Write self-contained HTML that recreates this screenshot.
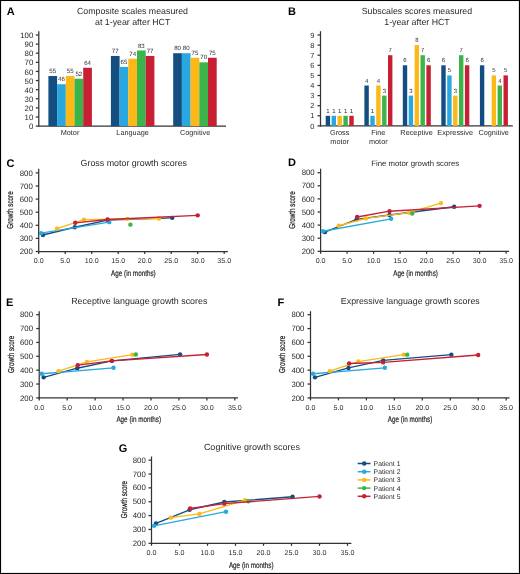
<!DOCTYPE html>
<html><head><meta charset="utf-8"><style>
html,body{margin:0;padding:0;background:#fff;}
svg{display:block;will-change:transform;}
text{font-family:"Liberation Sans",sans-serif;text-rendering:geometricPrecision;}
</style></head><body>
<svg width="520" height="574" viewBox="0 0 520 574" fill="#2a2a2a">
<rect x="0" y="0" width="520" height="574" fill="#fff"/>
<text x="6.80" y="14.60" font-size="11" font-weight="bold" fill="#000">A</text>
<text x="132.50" y="14.00" font-size="8.8" text-anchor="middle">Composite scales measured</text>
<text x="132.70" y="24.80" font-size="8.8" text-anchor="middle">at 1-year after HCT</text>
<line x1="38.80" y1="31.30" x2="38.80" y2="126.60" stroke="#333333" stroke-width="1.25"/>
<line x1="38.30" y1="126.10" x2="226.00" y2="126.10" stroke="#333333" stroke-width="1.25"/>
<line x1="35.80" y1="126.10" x2="38.80" y2="126.10" stroke="#333333" stroke-width="1.25"/>
<text x="33.30" y="129.20" font-size="7.8" text-anchor="end">0</text>
<line x1="35.80" y1="116.99" x2="38.80" y2="116.99" stroke="#333333" stroke-width="1.25"/>
<text x="33.30" y="120.09" font-size="7.8" text-anchor="end">10</text>
<line x1="35.80" y1="107.88" x2="38.80" y2="107.88" stroke="#333333" stroke-width="1.25"/>
<text x="33.30" y="110.98" font-size="7.8" text-anchor="end">20</text>
<line x1="35.80" y1="98.77" x2="38.80" y2="98.77" stroke="#333333" stroke-width="1.25"/>
<text x="33.30" y="101.87" font-size="7.8" text-anchor="end">30</text>
<line x1="35.80" y1="89.66" x2="38.80" y2="89.66" stroke="#333333" stroke-width="1.25"/>
<text x="33.30" y="92.76" font-size="7.8" text-anchor="end">40</text>
<line x1="35.80" y1="80.55" x2="38.80" y2="80.55" stroke="#333333" stroke-width="1.25"/>
<text x="33.30" y="83.65" font-size="7.8" text-anchor="end">50</text>
<line x1="35.80" y1="71.44" x2="38.80" y2="71.44" stroke="#333333" stroke-width="1.25"/>
<text x="33.30" y="74.54" font-size="7.8" text-anchor="end">60</text>
<line x1="35.80" y1="62.33" x2="38.80" y2="62.33" stroke="#333333" stroke-width="1.25"/>
<text x="33.30" y="65.43" font-size="7.8" text-anchor="end">70</text>
<line x1="35.80" y1="53.22" x2="38.80" y2="53.22" stroke="#333333" stroke-width="1.25"/>
<text x="33.30" y="56.32" font-size="7.8" text-anchor="end">80</text>
<line x1="35.80" y1="44.11" x2="38.80" y2="44.11" stroke="#333333" stroke-width="1.25"/>
<text x="33.30" y="47.21" font-size="7.8" text-anchor="end">90</text>
<line x1="35.80" y1="35.00" x2="38.80" y2="35.00" stroke="#333333" stroke-width="1.25"/>
<text x="33.30" y="38.10" font-size="7.8" text-anchor="end">100</text>
<rect x="48.40" y="75.99" width="8.70" height="50.11" fill="#144d80"/>
<text x="52.75" y="73.09" font-size="6.1" text-anchor="middle">55</text>
<rect x="57.10" y="84.19" width="8.70" height="41.91" fill="#29a8e0"/>
<text x="61.45" y="81.29" font-size="6.1" text-anchor="middle">46</text>
<rect x="65.80" y="75.99" width="8.70" height="50.11" fill="#fbb817"/>
<text x="70.15" y="73.09" font-size="6.1" text-anchor="middle">55</text>
<rect x="74.50" y="78.73" width="8.70" height="47.37" fill="#3bb44a"/>
<text x="78.85" y="75.83" font-size="6.1" text-anchor="middle">52</text>
<rect x="83.20" y="67.80" width="8.70" height="58.30" fill="#c71f33"/>
<text x="87.55" y="64.90" font-size="6.1" text-anchor="middle">64</text>
<rect x="110.90" y="55.95" width="8.70" height="70.15" fill="#144d80"/>
<text x="115.25" y="53.05" font-size="6.1" text-anchor="middle">77</text>
<rect x="119.60" y="66.88" width="8.70" height="59.22" fill="#29a8e0"/>
<text x="123.95" y="63.98" font-size="6.1" text-anchor="middle">65</text>
<rect x="128.30" y="58.69" width="8.70" height="67.41" fill="#fbb817"/>
<text x="132.65" y="55.79" font-size="6.1" text-anchor="middle">74</text>
<rect x="137.00" y="50.49" width="8.70" height="75.61" fill="#3bb44a"/>
<text x="141.35" y="47.59" font-size="6.1" text-anchor="middle">83</text>
<rect x="145.70" y="55.95" width="8.70" height="70.15" fill="#c71f33"/>
<text x="150.05" y="53.05" font-size="6.1" text-anchor="middle">77</text>
<rect x="173.20" y="53.22" width="8.70" height="72.88" fill="#144d80"/>
<text x="177.55" y="50.32" font-size="6.1" text-anchor="middle">80</text>
<rect x="181.90" y="53.22" width="8.70" height="72.88" fill="#29a8e0"/>
<text x="186.25" y="50.32" font-size="6.1" text-anchor="middle">80</text>
<rect x="190.60" y="57.77" width="8.70" height="68.33" fill="#fbb817"/>
<text x="194.95" y="54.87" font-size="6.1" text-anchor="middle">75</text>
<rect x="199.30" y="62.33" width="8.70" height="63.77" fill="#3bb44a"/>
<text x="203.65" y="59.43" font-size="6.1" text-anchor="middle">70</text>
<rect x="208.00" y="57.77" width="8.70" height="68.33" fill="#c71f33"/>
<text x="212.35" y="54.87" font-size="6.1" text-anchor="middle">75</text>
<text x="70.00" y="135.00" font-size="7.3" text-anchor="middle">Motor</text>
<text x="132.60" y="135.00" font-size="7.3" text-anchor="middle">Language</text>
<text x="195.10" y="135.00" font-size="7.3" text-anchor="middle">Cognitive</text>
<text x="288.10" y="14.70" font-size="11" font-weight="bold" fill="#000">B</text>
<text x="416.90" y="14.00" font-size="8.8" text-anchor="middle">Subscales scores measured</text>
<text x="417.00" y="24.80" font-size="8.8" text-anchor="middle">1-year after HCT</text>
<line x1="320.50" y1="31.20" x2="320.50" y2="126.40" stroke="#333333" stroke-width="1.25"/>
<line x1="320.00" y1="125.90" x2="512.80" y2="125.90" stroke="#333333" stroke-width="1.25"/>
<line x1="317.50" y1="125.90" x2="320.50" y2="125.90" stroke="#333333" stroke-width="1.25"/>
<text x="314.40" y="128.50" font-size="7.4" text-anchor="end">0</text>
<line x1="317.50" y1="115.80" x2="320.50" y2="115.80" stroke="#333333" stroke-width="1.25"/>
<text x="314.40" y="118.40" font-size="7.4" text-anchor="end">1</text>
<line x1="317.50" y1="105.70" x2="320.50" y2="105.70" stroke="#333333" stroke-width="1.25"/>
<text x="314.40" y="108.30" font-size="7.4" text-anchor="end">2</text>
<line x1="317.50" y1="95.60" x2="320.50" y2="95.60" stroke="#333333" stroke-width="1.25"/>
<text x="314.40" y="98.20" font-size="7.4" text-anchor="end">3</text>
<line x1="317.50" y1="85.50" x2="320.50" y2="85.50" stroke="#333333" stroke-width="1.25"/>
<text x="314.40" y="88.10" font-size="7.4" text-anchor="end">4</text>
<line x1="317.50" y1="75.40" x2="320.50" y2="75.40" stroke="#333333" stroke-width="1.25"/>
<text x="314.40" y="78.00" font-size="7.4" text-anchor="end">5</text>
<line x1="317.50" y1="65.30" x2="320.50" y2="65.30" stroke="#333333" stroke-width="1.25"/>
<text x="314.40" y="67.90" font-size="7.4" text-anchor="end">6</text>
<line x1="317.50" y1="55.20" x2="320.50" y2="55.20" stroke="#333333" stroke-width="1.25"/>
<text x="314.40" y="57.80" font-size="7.4" text-anchor="end">7</text>
<line x1="317.50" y1="45.10" x2="320.50" y2="45.10" stroke="#333333" stroke-width="1.25"/>
<text x="314.40" y="47.70" font-size="7.4" text-anchor="end">8</text>
<line x1="317.50" y1="35.00" x2="320.50" y2="35.00" stroke="#333333" stroke-width="1.25"/>
<text x="314.40" y="37.60" font-size="7.4" text-anchor="end">9</text>
<rect x="325.70" y="115.80" width="4.40" height="10.10" fill="#144d80"/>
<text x="327.90" y="112.80" font-size="6.0" text-anchor="middle">1</text>
<rect x="331.60" y="115.80" width="4.40" height="10.10" fill="#29a8e0"/>
<text x="333.80" y="112.80" font-size="6.0" text-anchor="middle">1</text>
<rect x="337.50" y="115.80" width="4.40" height="10.10" fill="#fbb817"/>
<text x="339.70" y="112.80" font-size="6.0" text-anchor="middle">1</text>
<rect x="343.40" y="115.80" width="4.40" height="10.10" fill="#3bb44a"/>
<text x="345.60" y="112.80" font-size="6.0" text-anchor="middle">1</text>
<rect x="349.30" y="115.80" width="4.40" height="10.10" fill="#c71f33"/>
<text x="351.50" y="112.80" font-size="6.0" text-anchor="middle">1</text>
<rect x="364.40" y="85.50" width="4.40" height="40.40" fill="#144d80"/>
<text x="366.60" y="82.50" font-size="6.0" text-anchor="middle">4</text>
<rect x="370.30" y="115.80" width="4.40" height="10.10" fill="#29a8e0"/>
<text x="372.50" y="112.80" font-size="6.0" text-anchor="middle">1</text>
<rect x="376.20" y="85.50" width="4.40" height="40.40" fill="#fbb817"/>
<text x="378.40" y="82.50" font-size="6.0" text-anchor="middle">4</text>
<rect x="382.10" y="95.60" width="4.40" height="30.30" fill="#3bb44a"/>
<text x="384.30" y="92.60" font-size="6.0" text-anchor="middle">3</text>
<rect x="388.00" y="55.20" width="4.40" height="70.70" fill="#c71f33"/>
<text x="390.20" y="52.20" font-size="6.0" text-anchor="middle">7</text>
<rect x="402.80" y="65.30" width="4.40" height="60.60" fill="#144d80"/>
<text x="405.00" y="62.30" font-size="6.0" text-anchor="middle">6</text>
<rect x="408.70" y="95.60" width="4.40" height="30.30" fill="#29a8e0"/>
<text x="410.90" y="92.60" font-size="6.0" text-anchor="middle">3</text>
<rect x="414.60" y="45.10" width="4.40" height="80.80" fill="#fbb817"/>
<text x="416.80" y="42.10" font-size="6.0" text-anchor="middle">8</text>
<rect x="420.50" y="55.20" width="4.40" height="70.70" fill="#3bb44a"/>
<text x="422.70" y="52.20" font-size="6.0" text-anchor="middle">7</text>
<rect x="426.40" y="65.30" width="4.40" height="60.60" fill="#c71f33"/>
<text x="428.60" y="62.30" font-size="6.0" text-anchor="middle">6</text>
<rect x="441.30" y="65.30" width="4.40" height="60.60" fill="#144d80"/>
<text x="443.50" y="62.30" font-size="6.0" text-anchor="middle">6</text>
<rect x="447.20" y="75.40" width="4.40" height="50.50" fill="#29a8e0"/>
<text x="449.40" y="72.40" font-size="6.0" text-anchor="middle">5</text>
<rect x="453.10" y="95.60" width="4.40" height="30.30" fill="#fbb817"/>
<text x="455.30" y="92.60" font-size="6.0" text-anchor="middle">3</text>
<rect x="459.00" y="55.20" width="4.40" height="70.70" fill="#3bb44a"/>
<text x="461.20" y="52.20" font-size="6.0" text-anchor="middle">7</text>
<rect x="464.90" y="65.30" width="4.40" height="60.60" fill="#c71f33"/>
<text x="467.10" y="62.30" font-size="6.0" text-anchor="middle">6</text>
<rect x="479.90" y="65.30" width="4.40" height="60.60" fill="#144d80"/>
<text x="482.10" y="62.30" font-size="6.0" text-anchor="middle">6</text>
<rect x="491.70" y="75.40" width="4.40" height="50.50" fill="#fbb817"/>
<text x="493.90" y="72.40" font-size="6.0" text-anchor="middle">5</text>
<rect x="497.60" y="85.50" width="4.40" height="40.40" fill="#3bb44a"/>
<text x="499.80" y="82.50" font-size="6.0" text-anchor="middle">4</text>
<rect x="503.50" y="75.40" width="4.40" height="50.50" fill="#c71f33"/>
<text x="505.70" y="72.40" font-size="6.0" text-anchor="middle">5</text>
<text x="339.70" y="134.80" font-size="7.3" text-anchor="middle">Gross</text>
<text x="339.70" y="143.90" font-size="7.3" text-anchor="middle">motor</text>
<text x="378.30" y="134.80" font-size="7.3" text-anchor="middle">Fine</text>
<text x="378.30" y="143.90" font-size="7.3" text-anchor="middle">motor</text>
<text x="416.60" y="134.80" font-size="7.3" text-anchor="middle">Receptive</text>
<text x="455.20" y="134.80" font-size="7.3" text-anchor="middle">Expressive</text>
<text x="493.70" y="134.80" font-size="7.3" text-anchor="middle">Cognitive</text>
<text x="6.50" y="166.80" font-size="11" font-weight="bold" fill="#000">C</text>
<text x="133.80" y="165.90" font-size="8.9" text-anchor="middle">Gross motor growth scores</text>
<line x1="38.70" y1="168.70" x2="38.70" y2="252.00" stroke="#333333" stroke-width="1.25"/>
<line x1="38.20" y1="251.50" x2="227.90" y2="251.50" stroke="#333333" stroke-width="1.25"/>
<line x1="35.70" y1="251.50" x2="38.70" y2="251.50" stroke="#333333" stroke-width="1.25"/>
<text x="32.80" y="254.10" font-size="7.8" text-anchor="end">200</text>
<line x1="35.70" y1="238.40" x2="38.70" y2="238.40" stroke="#333333" stroke-width="1.25"/>
<text x="32.80" y="241.00" font-size="7.8" text-anchor="end">300</text>
<line x1="35.70" y1="225.30" x2="38.70" y2="225.30" stroke="#333333" stroke-width="1.25"/>
<text x="32.80" y="227.90" font-size="7.8" text-anchor="end">400</text>
<line x1="35.70" y1="212.20" x2="38.70" y2="212.20" stroke="#333333" stroke-width="1.25"/>
<text x="32.80" y="214.80" font-size="7.8" text-anchor="end">500</text>
<line x1="35.70" y1="199.10" x2="38.70" y2="199.10" stroke="#333333" stroke-width="1.25"/>
<text x="32.80" y="201.70" font-size="7.8" text-anchor="end">600</text>
<line x1="35.70" y1="186.00" x2="38.70" y2="186.00" stroke="#333333" stroke-width="1.25"/>
<text x="32.80" y="188.60" font-size="7.8" text-anchor="end">700</text>
<line x1="35.70" y1="172.90" x2="38.70" y2="172.90" stroke="#333333" stroke-width="1.25"/>
<text x="32.80" y="175.50" font-size="7.8" text-anchor="end">800</text>
<line x1="38.70" y1="251.50" x2="38.70" y2="254.00" stroke="#333333" stroke-width="1.25"/>
<text x="38.70" y="262.50" font-size="7.1" text-anchor="middle">0.0</text>
<line x1="65.20" y1="251.50" x2="65.20" y2="254.00" stroke="#333333" stroke-width="1.25"/>
<text x="65.20" y="262.50" font-size="7.1" text-anchor="middle">5.0</text>
<line x1="91.70" y1="251.50" x2="91.70" y2="254.00" stroke="#333333" stroke-width="1.25"/>
<text x="91.70" y="262.50" font-size="7.1" text-anchor="middle">10.0</text>
<line x1="118.20" y1="251.50" x2="118.20" y2="254.00" stroke="#333333" stroke-width="1.25"/>
<text x="118.20" y="262.50" font-size="7.1" text-anchor="middle">15.0</text>
<line x1="144.70" y1="251.50" x2="144.70" y2="254.00" stroke="#333333" stroke-width="1.25"/>
<text x="144.70" y="262.50" font-size="7.1" text-anchor="middle">20.0</text>
<line x1="171.20" y1="251.50" x2="171.20" y2="254.00" stroke="#333333" stroke-width="1.25"/>
<text x="171.20" y="262.50" font-size="7.1" text-anchor="middle">25.0</text>
<line x1="197.70" y1="251.50" x2="197.70" y2="254.00" stroke="#333333" stroke-width="1.25"/>
<text x="197.70" y="262.50" font-size="7.1" text-anchor="middle">30.0</text>
<line x1="224.20" y1="251.50" x2="224.20" y2="254.00" stroke="#333333" stroke-width="1.25"/>
<text x="224.20" y="262.50" font-size="7.1" text-anchor="middle">35.0</text>
<text transform="translate(13.20,210.00) rotate(-90)" text-anchor="middle" font-size="8.6" textLength="37.3" lengthAdjust="spacingAndGlyphs" fill="#231f20" stroke="#231f20" stroke-width="0.25">Growth score</text>
<text x="133.40" y="275.60" font-size="8.2" text-anchor="middle" textLength="44.6" lengthAdjust="spacingAndGlyphs" stroke="#231f20" stroke-width="0.2">Age (in months)</text>
<polyline points="42.94,234.99 74.74,227.26 107.60,220.06 172.26,217.83" fill="none" stroke="#144d80" stroke-width="1.35" stroke-linejoin="round"/>
<circle cx="42.94" cy="234.99" r="2.2" fill="#144d80"/>
<circle cx="74.74" cy="227.26" r="2.2" fill="#144d80"/>
<circle cx="107.60" cy="220.06" r="2.2" fill="#144d80"/>
<circle cx="172.26" cy="217.83" r="2.2" fill="#144d80"/>
<polyline points="41.09,233.16 109.19,222.16" fill="none" stroke="#29a8e0" stroke-width="1.35" stroke-linejoin="round"/>
<circle cx="41.09" cy="233.16" r="2.2" fill="#29a8e0"/>
<circle cx="109.19" cy="222.16" r="2.2" fill="#29a8e0"/>
<polyline points="56.98,228.71 84.02,219.67 127.21,218.88 159.01,218.49" fill="none" stroke="#fbb817" stroke-width="1.35" stroke-linejoin="round"/>
<circle cx="56.98" cy="228.71" r="2.2" fill="#fbb817"/>
<circle cx="84.02" cy="219.67" r="2.2" fill="#fbb817"/>
<circle cx="127.21" cy="218.88" r="2.2" fill="#fbb817"/>
<circle cx="159.01" cy="218.49" r="2.2" fill="#fbb817"/>
<circle cx="130.39" cy="224.65" r="2.2" fill="#3bb44a"/>
<polyline points="75.27,222.81 107.60,219.54 197.70,215.34" fill="none" stroke="#c71f33" stroke-width="1.35" stroke-linejoin="round"/>
<circle cx="75.27" cy="222.81" r="2.2" fill="#c71f33"/>
<circle cx="107.60" cy="219.54" r="2.2" fill="#c71f33"/>
<circle cx="197.70" cy="215.34" r="2.2" fill="#c71f33"/>
<text x="288.00" y="166.30" font-size="11" font-weight="bold" fill="#000">D</text>
<text x="415.20" y="165.70" font-size="7.8" text-anchor="middle">Fine motor growth scores</text>
<line x1="320.60" y1="168.70" x2="320.60" y2="251.80" stroke="#333333" stroke-width="1.25"/>
<line x1="320.10" y1="251.30" x2="509.10" y2="251.30" stroke="#333333" stroke-width="1.25"/>
<line x1="317.60" y1="251.30" x2="320.60" y2="251.30" stroke="#333333" stroke-width="1.25"/>
<text x="314.70" y="253.90" font-size="7.8" text-anchor="end">200</text>
<line x1="317.60" y1="238.20" x2="320.60" y2="238.20" stroke="#333333" stroke-width="1.25"/>
<text x="314.70" y="240.80" font-size="7.8" text-anchor="end">300</text>
<line x1="317.60" y1="225.10" x2="320.60" y2="225.10" stroke="#333333" stroke-width="1.25"/>
<text x="314.70" y="227.70" font-size="7.8" text-anchor="end">400</text>
<line x1="317.60" y1="212.00" x2="320.60" y2="212.00" stroke="#333333" stroke-width="1.25"/>
<text x="314.70" y="214.60" font-size="7.8" text-anchor="end">500</text>
<line x1="317.60" y1="198.90" x2="320.60" y2="198.90" stroke="#333333" stroke-width="1.25"/>
<text x="314.70" y="201.50" font-size="7.8" text-anchor="end">600</text>
<line x1="317.60" y1="185.80" x2="320.60" y2="185.80" stroke="#333333" stroke-width="1.25"/>
<text x="314.70" y="188.40" font-size="7.8" text-anchor="end">700</text>
<line x1="317.60" y1="172.70" x2="320.60" y2="172.70" stroke="#333333" stroke-width="1.25"/>
<text x="314.70" y="175.30" font-size="7.8" text-anchor="end">800</text>
<line x1="320.60" y1="251.30" x2="320.60" y2="253.80" stroke="#333333" stroke-width="1.25"/>
<text x="320.60" y="262.50" font-size="7.1" text-anchor="middle">0.0</text>
<line x1="347.10" y1="251.30" x2="347.10" y2="253.80" stroke="#333333" stroke-width="1.25"/>
<text x="347.10" y="262.50" font-size="7.1" text-anchor="middle">5.0</text>
<line x1="373.60" y1="251.30" x2="373.60" y2="253.80" stroke="#333333" stroke-width="1.25"/>
<text x="373.60" y="262.50" font-size="7.1" text-anchor="middle">10.0</text>
<line x1="400.10" y1="251.30" x2="400.10" y2="253.80" stroke="#333333" stroke-width="1.25"/>
<text x="400.10" y="262.50" font-size="7.1" text-anchor="middle">15.0</text>
<line x1="426.60" y1="251.30" x2="426.60" y2="253.80" stroke="#333333" stroke-width="1.25"/>
<text x="426.60" y="262.50" font-size="7.1" text-anchor="middle">20.0</text>
<line x1="453.10" y1="251.30" x2="453.10" y2="253.80" stroke="#333333" stroke-width="1.25"/>
<text x="453.10" y="262.50" font-size="7.1" text-anchor="middle">25.0</text>
<line x1="479.60" y1="251.30" x2="479.60" y2="253.80" stroke="#333333" stroke-width="1.25"/>
<text x="479.60" y="262.50" font-size="7.1" text-anchor="middle">30.0</text>
<line x1="506.10" y1="251.30" x2="506.10" y2="253.80" stroke="#333333" stroke-width="1.25"/>
<text x="506.10" y="262.50" font-size="7.1" text-anchor="middle">35.0</text>
<text transform="translate(295.00,210.00) rotate(-90)" text-anchor="middle" font-size="8.6" textLength="37.3" lengthAdjust="spacingAndGlyphs" fill="#231f20" stroke="#231f20" stroke-width="0.25">Growth score</text>
<text x="415.60" y="275.80" font-size="8.2" text-anchor="middle" textLength="44.6" lengthAdjust="spacingAndGlyphs" stroke="#231f20" stroke-width="0.2">Age (in months)</text>
<polyline points="324.84,232.17 356.64,219.34 389.50,215.01 454.16,206.76" fill="none" stroke="#144d80" stroke-width="1.35" stroke-linejoin="round"/>
<circle cx="324.84" cy="232.17" r="2.2" fill="#144d80"/>
<circle cx="356.64" cy="219.34" r="2.2" fill="#144d80"/>
<circle cx="389.50" cy="215.01" r="2.2" fill="#144d80"/>
<circle cx="454.16" cy="206.76" r="2.2" fill="#144d80"/>
<polyline points="322.99,231.26 391.09,218.81" fill="none" stroke="#29a8e0" stroke-width="1.35" stroke-linejoin="round"/>
<circle cx="322.99" cy="231.26" r="2.2" fill="#29a8e0"/>
<circle cx="391.09" cy="218.81" r="2.2" fill="#29a8e0"/>
<polyline points="338.89,225.76 365.92,218.42 409.11,212.66 440.91,203.09" fill="none" stroke="#fbb817" stroke-width="1.35" stroke-linejoin="round"/>
<circle cx="338.89" cy="225.76" r="2.2" fill="#fbb817"/>
<circle cx="365.92" cy="218.42" r="2.2" fill="#fbb817"/>
<circle cx="409.11" cy="212.66" r="2.2" fill="#fbb817"/>
<circle cx="440.91" cy="203.09" r="2.2" fill="#fbb817"/>
<circle cx="412.29" cy="213.44" r="2.2" fill="#3bb44a"/>
<polyline points="357.17,216.98 389.50,211.21 479.60,205.84" fill="none" stroke="#c71f33" stroke-width="1.35" stroke-linejoin="round"/>
<circle cx="357.17" cy="216.98" r="2.2" fill="#c71f33"/>
<circle cx="389.50" cy="211.21" r="2.2" fill="#c71f33"/>
<circle cx="479.60" cy="205.84" r="2.2" fill="#c71f33"/>
<text x="5.90" y="305.70" font-size="11" font-weight="bold" fill="#000">E</text>
<text x="139.30" y="304.20" font-size="8.9" text-anchor="middle">Receptive language growth scores</text>
<line x1="39.20" y1="311.20" x2="39.20" y2="398.40" stroke="#333333" stroke-width="1.25"/>
<line x1="38.70" y1="397.90" x2="238.00" y2="397.90" stroke="#333333" stroke-width="1.25"/>
<line x1="36.20" y1="397.90" x2="39.20" y2="397.90" stroke="#333333" stroke-width="1.25"/>
<text x="33.00" y="400.50" font-size="7.8" text-anchor="end">200</text>
<line x1="36.20" y1="384.03" x2="39.20" y2="384.03" stroke="#333333" stroke-width="1.25"/>
<text x="33.00" y="386.63" font-size="7.8" text-anchor="end">300</text>
<line x1="36.20" y1="370.16" x2="39.20" y2="370.16" stroke="#333333" stroke-width="1.25"/>
<text x="33.00" y="372.76" font-size="7.8" text-anchor="end">400</text>
<line x1="36.20" y1="356.29" x2="39.20" y2="356.29" stroke="#333333" stroke-width="1.25"/>
<text x="33.00" y="358.89" font-size="7.8" text-anchor="end">500</text>
<line x1="36.20" y1="342.42" x2="39.20" y2="342.42" stroke="#333333" stroke-width="1.25"/>
<text x="33.00" y="345.02" font-size="7.8" text-anchor="end">600</text>
<line x1="36.20" y1="328.55" x2="39.20" y2="328.55" stroke="#333333" stroke-width="1.25"/>
<text x="33.00" y="331.15" font-size="7.8" text-anchor="end">700</text>
<line x1="36.20" y1="314.68" x2="39.20" y2="314.68" stroke="#333333" stroke-width="1.25"/>
<text x="33.00" y="317.28" font-size="7.8" text-anchor="end">800</text>
<line x1="39.20" y1="397.90" x2="39.20" y2="400.40" stroke="#333333" stroke-width="1.25"/>
<text x="39.20" y="409.50" font-size="7.1" text-anchor="middle">0.0</text>
<line x1="67.15" y1="397.90" x2="67.15" y2="400.40" stroke="#333333" stroke-width="1.25"/>
<text x="67.15" y="409.50" font-size="7.1" text-anchor="middle">5.0</text>
<line x1="95.10" y1="397.90" x2="95.10" y2="400.40" stroke="#333333" stroke-width="1.25"/>
<text x="95.10" y="409.50" font-size="7.1" text-anchor="middle">10.0</text>
<line x1="123.05" y1="397.90" x2="123.05" y2="400.40" stroke="#333333" stroke-width="1.25"/>
<text x="123.05" y="409.50" font-size="7.1" text-anchor="middle">15.0</text>
<line x1="151.00" y1="397.90" x2="151.00" y2="400.40" stroke="#333333" stroke-width="1.25"/>
<text x="151.00" y="409.50" font-size="7.1" text-anchor="middle">20.0</text>
<line x1="178.95" y1="397.90" x2="178.95" y2="400.40" stroke="#333333" stroke-width="1.25"/>
<text x="178.95" y="409.50" font-size="7.1" text-anchor="middle">25.0</text>
<line x1="206.90" y1="397.90" x2="206.90" y2="400.40" stroke="#333333" stroke-width="1.25"/>
<text x="206.90" y="409.50" font-size="7.1" text-anchor="middle">30.0</text>
<line x1="234.85" y1="397.90" x2="234.85" y2="400.40" stroke="#333333" stroke-width="1.25"/>
<text x="234.85" y="409.50" font-size="7.1" text-anchor="middle">35.0</text>
<text transform="translate(13.50,354.40) rotate(-90)" text-anchor="middle" font-size="8.6" textLength="37.3" lengthAdjust="spacingAndGlyphs" fill="#231f20" stroke="#231f20" stroke-width="0.25">Growth score</text>
<text x="138.70" y="422.00" font-size="8.2" text-anchor="middle" textLength="44.6" lengthAdjust="spacingAndGlyphs" stroke="#231f20" stroke-width="0.2">Age (in months)</text>
<polyline points="43.67,377.37 77.21,368.22 111.87,360.87 180.07,354.35" fill="none" stroke="#144d80" stroke-width="1.35" stroke-linejoin="round"/>
<circle cx="43.67" cy="377.37" r="2.2" fill="#144d80"/>
<circle cx="77.21" cy="368.22" r="2.2" fill="#144d80"/>
<circle cx="111.87" cy="360.87" r="2.2" fill="#144d80"/>
<circle cx="180.07" cy="354.35" r="2.2" fill="#144d80"/>
<polyline points="41.72,373.77 113.55,367.80" fill="none" stroke="#29a8e0" stroke-width="1.35" stroke-linejoin="round"/>
<circle cx="41.72" cy="373.77" r="2.2" fill="#29a8e0"/>
<circle cx="113.55" cy="367.80" r="2.2" fill="#29a8e0"/>
<polyline points="58.49,371.13 86.99,361.84 132.55,354.63" fill="none" stroke="#fbb817" stroke-width="1.35" stroke-linejoin="round"/>
<circle cx="58.49" cy="371.13" r="2.2" fill="#fbb817"/>
<circle cx="86.99" cy="361.84" r="2.2" fill="#fbb817"/>
<circle cx="132.55" cy="354.63" r="2.2" fill="#fbb817"/>
<circle cx="135.91" cy="354.49" r="2.2" fill="#3bb44a"/>
<polyline points="77.77,365.17 111.87,360.87 206.90,354.49" fill="none" stroke="#c71f33" stroke-width="1.35" stroke-linejoin="round"/>
<circle cx="77.77" cy="365.17" r="2.2" fill="#c71f33"/>
<circle cx="111.87" cy="360.87" r="2.2" fill="#c71f33"/>
<circle cx="206.90" cy="354.49" r="2.2" fill="#c71f33"/>
<text x="277.40" y="305.70" font-size="11" font-weight="bold" fill="#000">F</text>
<text x="410.30" y="304.20" font-size="8.8" text-anchor="middle">Expressive language growth scores</text>
<line x1="310.50" y1="311.20" x2="310.50" y2="398.40" stroke="#333333" stroke-width="1.25"/>
<line x1="310.00" y1="397.90" x2="509.50" y2="397.90" stroke="#333333" stroke-width="1.25"/>
<line x1="307.50" y1="397.90" x2="310.50" y2="397.90" stroke="#333333" stroke-width="1.25"/>
<text x="304.40" y="400.50" font-size="7.8" text-anchor="end">200</text>
<line x1="307.50" y1="384.03" x2="310.50" y2="384.03" stroke="#333333" stroke-width="1.25"/>
<text x="304.40" y="386.63" font-size="7.8" text-anchor="end">300</text>
<line x1="307.50" y1="370.16" x2="310.50" y2="370.16" stroke="#333333" stroke-width="1.25"/>
<text x="304.40" y="372.76" font-size="7.8" text-anchor="end">400</text>
<line x1="307.50" y1="356.29" x2="310.50" y2="356.29" stroke="#333333" stroke-width="1.25"/>
<text x="304.40" y="358.89" font-size="7.8" text-anchor="end">500</text>
<line x1="307.50" y1="342.42" x2="310.50" y2="342.42" stroke="#333333" stroke-width="1.25"/>
<text x="304.40" y="345.02" font-size="7.8" text-anchor="end">600</text>
<line x1="307.50" y1="328.55" x2="310.50" y2="328.55" stroke="#333333" stroke-width="1.25"/>
<text x="304.40" y="331.15" font-size="7.8" text-anchor="end">700</text>
<line x1="307.50" y1="314.68" x2="310.50" y2="314.68" stroke="#333333" stroke-width="1.25"/>
<text x="304.40" y="317.28" font-size="7.8" text-anchor="end">800</text>
<line x1="310.50" y1="397.90" x2="310.50" y2="400.40" stroke="#333333" stroke-width="1.25"/>
<text x="310.50" y="409.50" font-size="7.1" text-anchor="middle">0.0</text>
<line x1="338.45" y1="397.90" x2="338.45" y2="400.40" stroke="#333333" stroke-width="1.25"/>
<text x="338.45" y="409.50" font-size="7.1" text-anchor="middle">5.0</text>
<line x1="366.40" y1="397.90" x2="366.40" y2="400.40" stroke="#333333" stroke-width="1.25"/>
<text x="366.40" y="409.50" font-size="7.1" text-anchor="middle">10.0</text>
<line x1="394.35" y1="397.90" x2="394.35" y2="400.40" stroke="#333333" stroke-width="1.25"/>
<text x="394.35" y="409.50" font-size="7.1" text-anchor="middle">15.0</text>
<line x1="422.30" y1="397.90" x2="422.30" y2="400.40" stroke="#333333" stroke-width="1.25"/>
<text x="422.30" y="409.50" font-size="7.1" text-anchor="middle">20.0</text>
<line x1="450.25" y1="397.90" x2="450.25" y2="400.40" stroke="#333333" stroke-width="1.25"/>
<text x="450.25" y="409.50" font-size="7.1" text-anchor="middle">25.0</text>
<line x1="478.20" y1="397.90" x2="478.20" y2="400.40" stroke="#333333" stroke-width="1.25"/>
<text x="478.20" y="409.50" font-size="7.1" text-anchor="middle">30.0</text>
<line x1="506.15" y1="397.90" x2="506.15" y2="400.40" stroke="#333333" stroke-width="1.25"/>
<text x="506.15" y="409.50" font-size="7.1" text-anchor="middle">35.0</text>
<text transform="translate(285.10,354.40) rotate(-90)" text-anchor="middle" font-size="8.6" textLength="37.3" lengthAdjust="spacingAndGlyphs" fill="#231f20" stroke="#231f20" stroke-width="0.25">Growth score</text>
<text x="410.00" y="422.00" font-size="8.2" text-anchor="middle" textLength="44.6" lengthAdjust="spacingAndGlyphs" stroke="#231f20" stroke-width="0.2">Age (in months)</text>
<polyline points="314.97,377.37 348.51,367.94 383.17,360.45 451.37,354.63" fill="none" stroke="#144d80" stroke-width="1.35" stroke-linejoin="round"/>
<circle cx="314.97" cy="377.37" r="2.2" fill="#144d80"/>
<circle cx="348.51" cy="367.94" r="2.2" fill="#144d80"/>
<circle cx="383.17" cy="360.45" r="2.2" fill="#144d80"/>
<circle cx="451.37" cy="354.63" r="2.2" fill="#144d80"/>
<polyline points="313.02,373.77 384.85,367.80" fill="none" stroke="#29a8e0" stroke-width="1.35" stroke-linejoin="round"/>
<circle cx="313.02" cy="373.77" r="2.2" fill="#29a8e0"/>
<circle cx="384.85" cy="367.80" r="2.2" fill="#29a8e0"/>
<polyline points="329.79,371.13 358.29,361.56 403.85,354.63" fill="none" stroke="#fbb817" stroke-width="1.35" stroke-linejoin="round"/>
<circle cx="329.79" cy="371.13" r="2.2" fill="#fbb817"/>
<circle cx="358.29" cy="361.56" r="2.2" fill="#fbb817"/>
<circle cx="403.85" cy="354.63" r="2.2" fill="#fbb817"/>
<circle cx="407.21" cy="354.63" r="2.2" fill="#3bb44a"/>
<polyline points="349.07,363.50 383.17,362.39 478.20,355.04" fill="none" stroke="#c71f33" stroke-width="1.35" stroke-linejoin="round"/>
<circle cx="349.07" cy="363.50" r="2.2" fill="#c71f33"/>
<circle cx="383.17" cy="362.39" r="2.2" fill="#c71f33"/>
<circle cx="478.20" cy="355.04" r="2.2" fill="#c71f33"/>
<text x="118.70" y="451.50" font-size="11" font-weight="bold" fill="#000">G</text>
<text x="251.90" y="450.40" font-size="9.0" text-anchor="middle">Cognitive growth scores</text>
<line x1="151.50" y1="456.50" x2="151.50" y2="543.80" stroke="#333333" stroke-width="1.25"/>
<line x1="151.00" y1="543.30" x2="351.40" y2="543.30" stroke="#333333" stroke-width="1.25"/>
<line x1="148.50" y1="543.30" x2="151.50" y2="543.30" stroke="#333333" stroke-width="1.25"/>
<text x="145.80" y="545.90" font-size="7.8" text-anchor="end">200</text>
<line x1="148.50" y1="529.44" x2="151.50" y2="529.44" stroke="#333333" stroke-width="1.25"/>
<text x="145.80" y="532.04" font-size="7.8" text-anchor="end">300</text>
<line x1="148.50" y1="515.58" x2="151.50" y2="515.58" stroke="#333333" stroke-width="1.25"/>
<text x="145.80" y="518.18" font-size="7.8" text-anchor="end">400</text>
<line x1="148.50" y1="501.72" x2="151.50" y2="501.72" stroke="#333333" stroke-width="1.25"/>
<text x="145.80" y="504.32" font-size="7.8" text-anchor="end">500</text>
<line x1="148.50" y1="487.86" x2="151.50" y2="487.86" stroke="#333333" stroke-width="1.25"/>
<text x="145.80" y="490.46" font-size="7.8" text-anchor="end">600</text>
<line x1="148.50" y1="474.00" x2="151.50" y2="474.00" stroke="#333333" stroke-width="1.25"/>
<text x="145.80" y="476.60" font-size="7.8" text-anchor="end">700</text>
<line x1="148.50" y1="460.14" x2="151.50" y2="460.14" stroke="#333333" stroke-width="1.25"/>
<text x="145.80" y="462.74" font-size="7.8" text-anchor="end">800</text>
<line x1="151.50" y1="543.30" x2="151.50" y2="545.80" stroke="#333333" stroke-width="1.25"/>
<text x="151.50" y="554.90" font-size="7.1" text-anchor="middle">0.0</text>
<line x1="179.50" y1="543.30" x2="179.50" y2="545.80" stroke="#333333" stroke-width="1.25"/>
<text x="179.50" y="554.90" font-size="7.1" text-anchor="middle">5.0</text>
<line x1="207.50" y1="543.30" x2="207.50" y2="545.80" stroke="#333333" stroke-width="1.25"/>
<text x="207.50" y="554.90" font-size="7.1" text-anchor="middle">10.0</text>
<line x1="235.50" y1="543.30" x2="235.50" y2="545.80" stroke="#333333" stroke-width="1.25"/>
<text x="235.50" y="554.90" font-size="7.1" text-anchor="middle">15.0</text>
<line x1="263.50" y1="543.30" x2="263.50" y2="545.80" stroke="#333333" stroke-width="1.25"/>
<text x="263.50" y="554.90" font-size="7.1" text-anchor="middle">20.0</text>
<line x1="291.50" y1="543.30" x2="291.50" y2="545.80" stroke="#333333" stroke-width="1.25"/>
<text x="291.50" y="554.90" font-size="7.1" text-anchor="middle">25.0</text>
<line x1="319.50" y1="543.30" x2="319.50" y2="545.80" stroke="#333333" stroke-width="1.25"/>
<text x="319.50" y="554.90" font-size="7.1" text-anchor="middle">30.0</text>
<line x1="347.50" y1="543.30" x2="347.50" y2="545.80" stroke="#333333" stroke-width="1.25"/>
<text x="347.50" y="554.90" font-size="7.1" text-anchor="middle">35.0</text>
<text transform="translate(126.70,499.60) rotate(-90)" text-anchor="middle" font-size="8.6" textLength="37.3" lengthAdjust="spacingAndGlyphs" fill="#231f20" stroke="#231f20" stroke-width="0.25">Growth score</text>
<text x="251.20" y="568.00" font-size="8.2" text-anchor="middle" textLength="44.6" lengthAdjust="spacingAndGlyphs" stroke="#231f20" stroke-width="0.2">Age (in months)</text>
<polyline points="155.98,523.34 189.58,509.76 224.30,502.00 292.62,496.73" fill="none" stroke="#144d80" stroke-width="1.35" stroke-linejoin="round"/>
<circle cx="155.98" cy="523.34" r="2.2" fill="#144d80"/>
<circle cx="189.58" cy="509.76" r="2.2" fill="#144d80"/>
<circle cx="224.30" cy="502.00" r="2.2" fill="#144d80"/>
<circle cx="292.62" cy="496.73" r="2.2" fill="#144d80"/>
<polyline points="154.02,525.84 225.98,511.70" fill="none" stroke="#29a8e0" stroke-width="1.35" stroke-linejoin="round"/>
<circle cx="154.02" cy="525.84" r="2.2" fill="#29a8e0"/>
<circle cx="225.98" cy="511.70" r="2.2" fill="#29a8e0"/>
<polyline points="170.82,517.66 199.38,513.92 245.02,500.20" fill="none" stroke="#fbb817" stroke-width="1.35" stroke-linejoin="round"/>
<circle cx="170.82" cy="517.66" r="2.2" fill="#fbb817"/>
<circle cx="199.38" cy="513.92" r="2.2" fill="#fbb817"/>
<circle cx="245.02" cy="500.20" r="2.2" fill="#fbb817"/>
<circle cx="248.38" cy="501.30" r="2.2" fill="#3bb44a"/>
<polyline points="190.14,508.51 224.30,503.66 319.50,496.45" fill="none" stroke="#c71f33" stroke-width="1.35" stroke-linejoin="round"/>
<circle cx="190.14" cy="508.51" r="2.2" fill="#c71f33"/>
<circle cx="224.30" cy="503.66" r="2.2" fill="#c71f33"/>
<circle cx="319.50" cy="496.45" r="2.2" fill="#c71f33"/>
<line x1="357.70" y1="463.50" x2="370.50" y2="463.50" stroke="#144d80" stroke-width="1.5"/>
<circle cx="364.2" cy="463.50" r="2.2" fill="#144d80"/>
<text x="373.60" y="466.00" font-size="6.8">Patient 1</text>
<line x1="357.70" y1="471.70" x2="370.50" y2="471.70" stroke="#29a8e0" stroke-width="1.5"/>
<circle cx="364.2" cy="471.70" r="2.2" fill="#29a8e0"/>
<text x="373.60" y="474.20" font-size="6.8">Patient 2</text>
<line x1="357.70" y1="479.90" x2="370.50" y2="479.90" stroke="#fbb817" stroke-width="1.5"/>
<circle cx="364.2" cy="479.90" r="2.2" fill="#fbb817"/>
<text x="373.60" y="482.40" font-size="6.8">Patient 3</text>
<line x1="357.70" y1="488.10" x2="370.50" y2="488.10" stroke="#3bb44a" stroke-width="1.5"/>
<circle cx="364.2" cy="488.10" r="2.2" fill="#3bb44a"/>
<text x="373.60" y="490.60" font-size="6.8">Patient 4</text>
<line x1="357.70" y1="496.30" x2="370.50" y2="496.30" stroke="#c71f33" stroke-width="1.5"/>
<circle cx="364.2" cy="496.30" r="2.2" fill="#c71f33"/>
<text x="373.60" y="498.80" font-size="6.8">Patient 5</text>
<rect x="0" y="1" width="520" height="1" fill="#f6f6f6"/>
<rect x="1" y="0" width="1" height="574" fill="#ececec"/>
<rect x="518" y="0" width="1" height="574" fill="#e6e6e6"/>
<rect x="0" y="572" width="520" height="1" fill="#ececec"/>
<rect x="0" y="0" width="520" height="1" fill="#000"/>
<rect x="0" y="0" width="1" height="574" fill="#000"/>
<rect x="519" y="0" width="1" height="574" fill="#000"/>
<rect x="0" y="573" width="520" height="1" fill="#000"/>
</svg>
</body></html>
